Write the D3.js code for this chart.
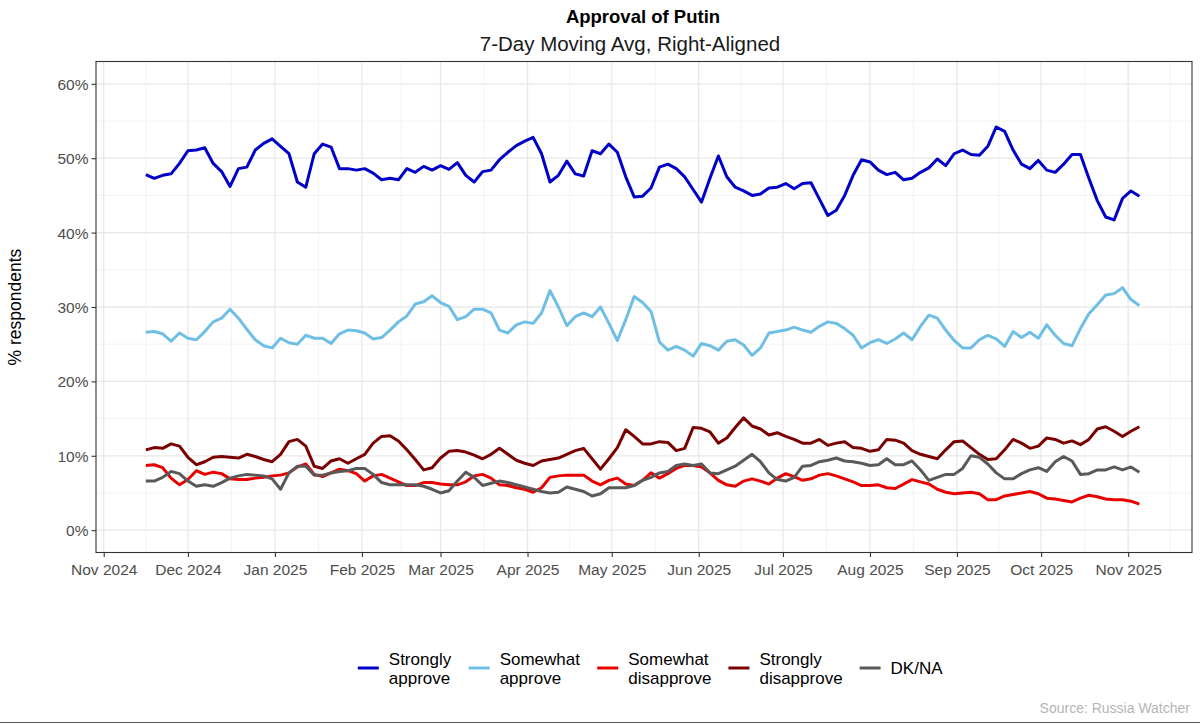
<!DOCTYPE html>
<html><head><meta charset="utf-8">
<script src="https://cdn.jsdelivr.net/npm/d3@7"></script>
<style>body{margin:0;background:#fff;} svg{display:block;font-family:"Liberation Sans",Arial,Helvetica,sans-serif;}</style>
</head><body><svg id="chart" width="1200" height="724"></svg>
<script>
// ---- data (7-day moving average, % respondents, read every 3 days from 2024-11-16) ----
const startDate = "2024-11-16";
const endDate = "2025-11-06";
const stepDays = 3;

const stronglyApprove = [
47.8,47.3,47.7,47.9,49.3,51.0,51.1,51.4,49.3,48.2,
46.2,48.6,48.8,51.1,52.0,52.6,51.6,50.6,46.8,46.1,
50.6,51.9,51.5,48.6,48.6,48.4,48.6,48.0,47.1,47.3,
47.1,48.6,48.1,48.9,48.4,49.0,48.5,49.4,47.7,46.8,48.2,
48.4,49.8,50.8,51.7,52.3,52.8,50.6,46.8,47.7,49.6,
47.9,47.6,51.0,50.6,51.9,50.8,47.5,44.8,44.9,46.0,
48.8,49.2,48.6,47.5,45.8,44.1,47.3,50.3,47.5,46.1,
45.6,45.0,45.2,46.0,46.1,46.6,45.9,46.6,46.7,44.5,42.3,43.0,
45.0,47.7,49.8,49.5,48.4,47.8,48.1,47.1,47.3,48.1,
48.7,49.9,49.0,50.6,51.1,50.5,50.4,51.6,54.2,53.6,
51.1,49.2,48.6,49.7,48.4,48.1,49.2,50.5,50.5,47.3,
44.3,42.1,41.7,44.6,45.6,44.9
];
const somewhatApprove = [
26.6,26.7,26.4,25.4,26.5,25.8,25.6,26.7,28.0,28.5,
29.7,28.5,27.0,25.6,24.8,24.5,25.8,25.2,25.0,26.2,
25.8,25.8,25.1,26.4,26.9,26.8,26.5,25.7,25.9,26.9,
28.0,28.8,30.4,30.7,31.5,30.6,30.1,28.3,28.7,29.7,
29.7,29.2,26.9,26.5,27.6,28.0,27.8,29.2,32.2,30.0,
27.5,28.7,29.2,28.7,30.0,27.8,25.5,28.3,31.4,30.6,
29.4,25.3,24.2,24.7,24.2,23.4,25.1,24.8,24.2,25.4,
25.6,24.9,23.5,24.5,26.5,26.7,26.9,27.3,26.9,26.6,
27.4,28.0,27.8,27.1,26.2,24.5,25.2,25.6,25.1,25.7,
26.5,25.6,27.4,28.9,28.5,26.9,25.5,24.5,24.5,25.6,
26.2,25.7,24.7,26.7,25.9,26.6,25.8,27.6,26.2,25.1,
24.8,27.1,29.1,30.3,31.6,31.8,32.6,31.0,30.2
];
const somewhatDisapprove = [
8.7,8.8,8.4,7.0,6.1,6.8,8.0,7.5,7.8,7.6,
6.9,6.8,6.8,7.0,7.1,7.3,7.4,7.7,8.5,8.9,
7.5,7.2,7.7,8.2,8.0,7.6,6.6,7.3,7.5,7.0,
6.5,6.0,6.0,6.4,6.4,6.2,6.1,6.1,6.5,7.3,
7.5,7.0,6.1,6.0,5.7,5.5,5.1,5.7,7.1,7.3,
7.4,7.4,7.4,6.6,6.1,6.7,7.0,6.2,6.0,6.7,
7.7,7.0,7.6,8.3,8.7,8.7,8.5,7.7,6.7,6.1,
5.9,6.6,6.9,6.6,6.2,7.0,7.6,7.2,6.7,
6.9,7.4,7.6,7.3,6.9,6.5,6.0,6.0,6.1,5.7,
5.6,6.2,6.8,6.5,6.2,5.5,5.1,4.9,5.0,5.1,
4.9,4.1,4.1,4.6,4.8,5.0,5.2,4.9,4.3,4.2,
4.0,3.8,4.3,4.7,4.5,4.2,4.1,4.1,3.9,3.5
];
const stronglyDisapprove = [
10.8,11.1,11.0,11.6,11.3,9.8,8.8,9.2,9.8,9.9,
9.8,9.7,10.2,9.9,9.5,9.2,10.2,11.9,12.2,11.3,
8.6,8.3,9.3,9.6,9.0,9.6,10.2,11.7,12.6,12.7,
12.0,10.8,9.5,8.1,8.4,9.7,10.6,10.7,10.5,10.1,
9.6,10.2,11.0,10.2,9.4,9.0,8.7,9.3,9.5,9.7,
10.2,10.7,11.0,9.6,8.2,9.6,11.1,13.5,12.6,11.6,
11.6,11.9,11.8,10.7,11.0,13.8,13.7,13.2,11.7,12.4,
13.8,15.1,14.0,13.6,12.8,13.1,12.6,12.2,11.7,
11.7,12.2,11.4,11.7,11.9,11.1,11.0,10.6,10.8,12.2,
12.1,11.7,10.7,10.2,9.9,9.6,10.8,11.9,12.0,11.1,
10.2,9.5,9.6,10.8,12.2,11.7,11.0,11.3,12.4,12.2,
11.7,12.0,11.5,12.2,13.6,13.9,13.3,12.6,13.3,13.9
];
const dkNa = [
6.6,6.6,7.1,7.9,7.6,6.6,5.9,6.1,5.9,6.4,
7.0,7.3,7.5,7.4,7.3,6.9,5.5,7.7,8.6,8.6,
7.4,7.4,7.7,7.9,8.0,8.3,8.3,7.5,6.4,6.1,
6.1,6.1,6.1,5.9,5.5,5.0,5.3,6.6,7.8,7.1,
6.0,6.3,6.6,6.4,6.1,5.8,5.5,5.2,5.0,5.1,
5.8,5.5,5.2,4.6,4.9,5.7,5.7,5.7,6.0,6.7,
7.1,7.7,7.9,8.7,8.9,8.7,8.9,7.7,7.6,8.1,
8.6,9.4,10.2,9.2,7.7,6.8,6.6,7.1,8.6,
8.7,9.2,9.4,9.7,9.3,9.2,9.0,8.7,8.8,9.6,
8.8,8.8,9.3,8.1,6.7,7.1,7.5,7.5,8.3,10.0,
9.8,8.9,7.7,6.9,6.9,7.6,8.1,8.4,7.9,9.2,
9.9,9.3,7.5,7.6,8.1,8.1,8.5,8.1,8.5,7.8
];

const seriesLabels = ["Strongly\napprove", "Somewhat\napprove", "Somewhat\ndisapprove", "Strongly\ndisapprove", "DK/NA"];
const seriesColors = ["#0000c8", "#6fbfe4", "#e80000", "#7a0000", "#595959"];
const yTickValues = [0, 10, 20, 30, 40, 50, 60];
const titleText = "Approval of Putin";
const subtitleText = "7-Day Moving Avg, Right-Aligned";
const yAxisTitle = "% respondents";
const captionText = "Source: Russia Watcher";

// ---- build ----
const parse = d3.timeParse("%Y-%m-%d");
const t0 = parse(startDate), t1 = parse(endDate);
const allSeries = [stronglyApprove, somewhatApprove, somewhatDisapprove, stronglyDisapprove, dkNa];
const data = allSeries.map(vals => vals.map((v, i) => ({date: d3.timeDay.offset(t0, stepDays * i), value: v})));

const svg = d3.select("#chart");
const P = {left: 96, right: 1192, top: 61.5, bottom: 552.5};

const span = t1 - t0;
const x = d3.scaleTime()
  .domain([new Date(+t0 - 0.05 * span), new Date(+t1 + 0.05 * span)])
  .range([P.left, P.right]);
const y = d3.scaleLinear().domain([-3, 63]).range([P.bottom, P.top]);

const monthTicks = d3.timeMonth.range(d3.timeMonth.floor(x.domain()[0]), x.domain()[1]).filter(d => x(d) >= P.left && x(d) <= P.right);
const minorX = [];
const allMonths = d3.timeMonth.range(d3.timeMonth.offset(monthTicks[0], -1), d3.timeMonth.offset(monthTicks[monthTicks.length - 1], 2));
for (let i = 0; i < allMonths.length - 1; i++) {
  const m = new Date((+allMonths[i] + +allMonths[i + 1]) / 2);
  if (x(m) > P.left && x(m) < P.right) minorX.push(m);
}
const minorY = [5, 15, 25, 35, 45, 55];

const grid = svg.append("g");
grid.selectAll(".mx").data(minorX).join("line")
  .attr("x1", d => x(d)).attr("x2", d => x(d)).attr("y1", P.top).attr("y2", P.bottom)
  .attr("stroke", "#f0f0f0").attr("stroke-width", 0.8);
grid.selectAll(".my").data(minorY).join("line")
  .attr("x1", P.left).attr("x2", P.right).attr("y1", d => y(d)).attr("y2", d => y(d))
  .attr("stroke", "#f0f0f0").attr("stroke-width", 0.8);
grid.selectAll(".Mx").data(monthTicks).join("line")
  .attr("x1", d => x(d)).attr("x2", d => x(d)).attr("y1", P.top).attr("y2", P.bottom)
  .attr("stroke", "#e8e8e8").attr("stroke-width", 1.3);
grid.selectAll(".My").data(yTickValues).join("line")
  .attr("x1", P.left).attr("x2", P.right).attr("y1", d => y(d)).attr("y2", d => y(d))
  .attr("stroke", "#e8e8e8").attr("stroke-width", 1.3);

// lines
const line = d3.line().x(d => x(d.date)).y(d => y(d.value));
svg.append("g").selectAll("path").data(data).join("path")
  .attr("d", line).attr("fill", "none")
  .attr("stroke", (d, i) => seriesColors[i]).attr("stroke-width", 3)
  .attr("stroke-linejoin", "round").attr("stroke-linecap", "butt");

// panel border
svg.append("rect").attr("x", P.left).attr("y", P.top).attr("width", P.right - P.left).attr("height", P.bottom - P.top)
  .attr("fill", "none").attr("stroke", "#333").attr("stroke-width", 1.1);

// axes
const xAxis = d3.axisBottom(x).tickValues(monthTicks).tickFormat(d3.timeFormat("%b %Y")).tickSize(4.5).tickPadding(3);
const gx = svg.append("g").attr("transform", `translate(0,${P.bottom})`).call(xAxis);
const yAxis = d3.axisLeft(y).tickValues(yTickValues).tickFormat(d => d + "%").tickSize(4.5).tickPadding(3);
const gy = svg.append("g").attr("transform", `translate(${P.left},0)`).call(yAxis);
[gx, gy].forEach(g => {
  g.select(".domain").remove();
  g.selectAll(".tick line").attr("stroke", "#333").attr("stroke-width", 1.1);
  g.selectAll(".tick text").attr("fill", "#4d4d4d").style("font-size", "15.5px")
    .style("font-family", '"Liberation Sans",Arial,Helvetica,sans-serif');
});
gx.selectAll(".tick text").attr("dy", "0.95em");
gy.selectAll(".tick text").attr("dy", "0.36em");

// titles
svg.append("text").attr("x", 643).attr("y", 23).attr("text-anchor", "middle")
  .style("font-size", "18.5px").style("font-weight", "bold").attr("fill", "#000").text(titleText);
svg.append("text").attr("x", 630).attr("y", 50.5).attr("text-anchor", "middle")
  .style("font-size", "20.5px").attr("fill", "#1a1a1a").text(subtitleText);
svg.append("text").attr("transform", `translate(21,${(P.top + P.bottom) / 2}) rotate(-90)`)
  .attr("text-anchor", "middle").style("font-size", "17.5px").attr("fill", "#000").text(yAxisTitle);

// legend
const leg = svg.append("g");
const items = seriesLabels.map((lab, i) => {
  const g = leg.append("g");
  g.append("line").attr("x1", 0).attr("x2", 21).attr("y1", 0).attr("y2", 0)
    .attr("stroke", seriesColors[i]).attr("stroke-width", 3);
  const t = g.append("text").attr("x", 31).style("font-size", "17px").attr("fill", "#000");
  const parts = lab.split("\n");
  parts.forEach((p, k) => {
    t.append("tspan").attr("x", 31).attr("y", parts.length === 1 ? 6 : (k === 0 ? -3.5 : 16)).text(p);
  });
  const w = 31 + t.node().getBBox().width;
  return {g, w};
});
const gap = 17;
const totalW = d3.sum(items, d => d.w) + gap * (items.length - 1);
let cx = 650.5 - totalW / 2;
items.forEach(it => { it.g.attr("transform", `translate(${cx},668)`); cx += it.w + gap; });

// caption
svg.append("text").attr("x", 1190).attr("y", 713).attr("text-anchor", "end")
  .style("font-size", "14px").attr("fill", "#b5b5b5").text(captionText);

// bottom frame line
svg.append("line").attr("x1", 0).attr("x2", 1200).attr("y1", 722.5).attr("y2", 722.5)
  .attr("stroke", "#555").attr("stroke-width", 1);
</script></body></html>
